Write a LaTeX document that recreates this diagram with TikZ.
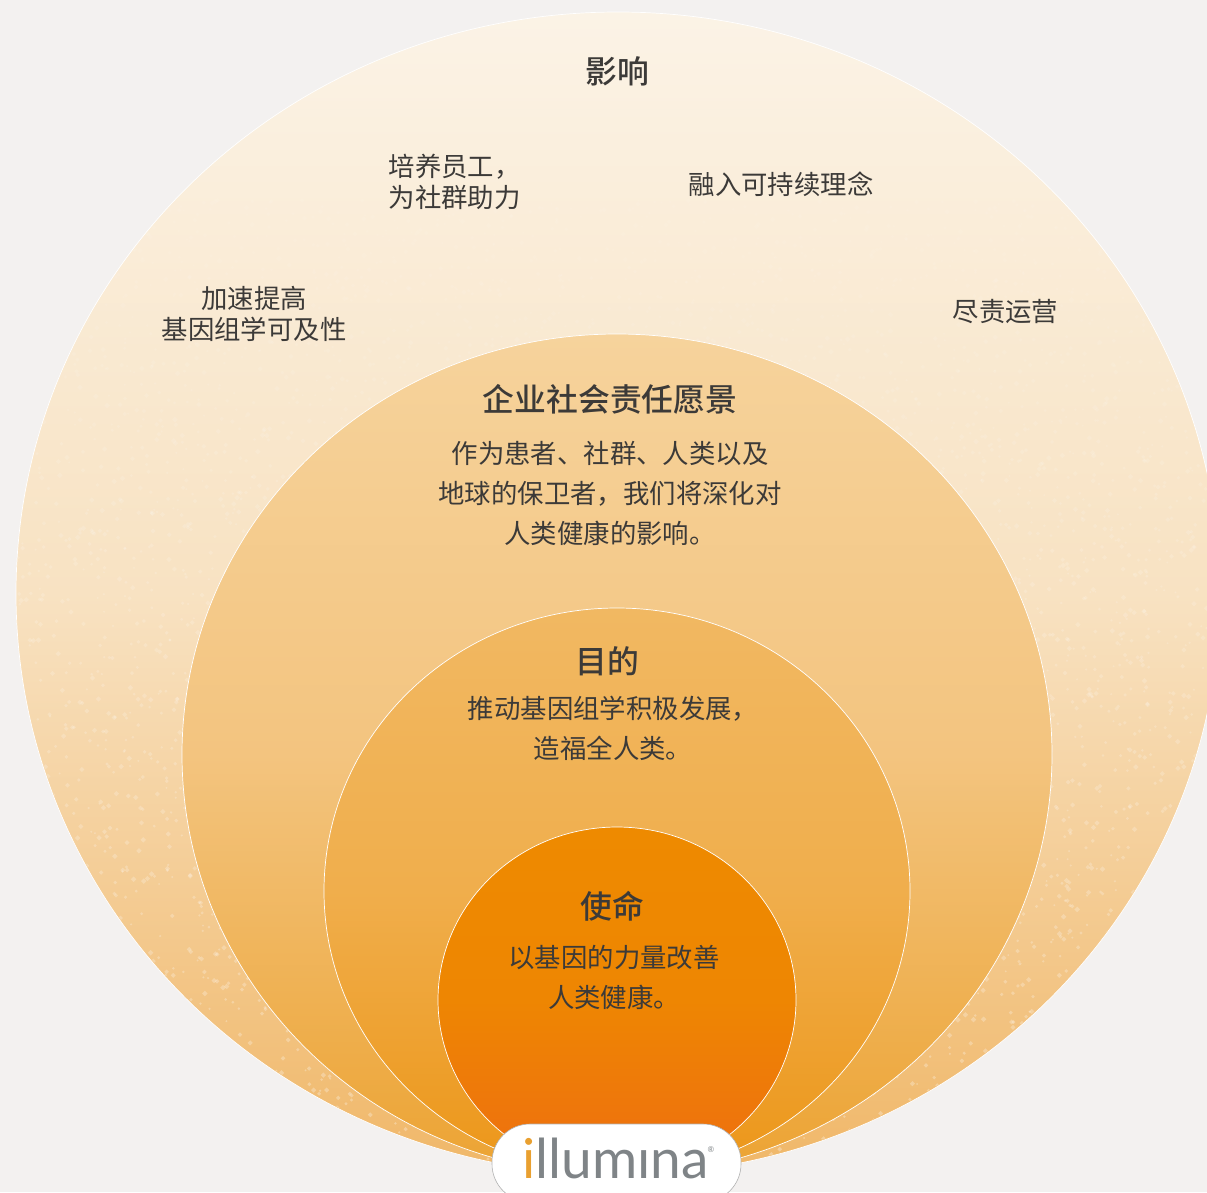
\documentclass[tikz,border=0pt]{standalone}
\usepackage{fontspec}
\setmainfont{Noto Sans CJK SC}[BoldFont={Noto Sans CJK SC Medium}]
\newfontfamily\logofont{Lato}
\definecolor{pagebg}{HTML}{F3F1F0}
\definecolor{inkc}{HTML}{3C3A38}
\definecolor{logog}{HTML}{7F8487}
\definecolor{logoo}{HTML}{E9A030}
\definecolor{oa}{HTML}{FBF3E6}
\definecolor{ob}{HTML}{F8E2C2}
\definecolor{oc}{HTML}{F0B768}
\definecolor{ma}{HTML}{F6D39C}
\definecolor{mm}{HTML}{F3C47F}
\definecolor{mb}{HTML}{ECA332}
\definecolor{pa}{HTML}{F1B862}
\definecolor{pm}{HTML}{F0AE4C}
\definecolor{pb}{HTML}{EC9618}
\definecolor{ia}{HTML}{EE8A00}
\definecolor{im}{HTML}{EE8602}
\definecolor{ib}{HTML}{EE6E10}
\tikzset{
  ring/.style={draw=white,line width=0.7pt},
  body/.style={text=inkc,inner sep=0pt,font=\fontsize{26.4}{40}\selectfont,align=center},
  outertxt/.style={text=inkc,inner sep=0pt,font=\fontsize{26.4}{31}\selectfont},
  headtxt/.style={text=inkc,inner sep=0pt,font=\fontsize{31.8}{38}\selectfont\bfseries},
}
\begin{document}
\begin{tikzpicture}[x=1pt,y=-1pt]
\useasboundingbox (0,0) rectangle (1207,1192);
\fill[pagebg] (0,0) rectangle (1207,1192);
% outer ring
\path[ring,top color=oa,bottom color=oc,middle color=ob] (618,593.5) ellipse [x radius=602,y radius=581.5];
\begin{scope}
\clip (618,593.5) ellipse [x radius=601,y radius=580.5];
\pgfmathsetseed{4711}
\foreach \k in {1,...,6000}{
  \pgfmathsetmacro{\px}{rnd*1207}
  \pgfmathsetmacro{\py}{200+rnd*980}
  \pgfmathsetmacro{\op}{0.06+0.24*(\py-200)/980}
  \pgfmathsetmacro{\rs}{1.0+rnd*1.8}
  \fill[white,opacity=\op] (\px-\rs,\py) -- (\px,\py-\rs) -- (\px+\rs,\py) -- (\px,\py+\rs) -- cycle;
}
\end{scope}
% inner discs
\path[ring,top color=ma,bottom color=mb,middle color=mm] (617,754.5) ellipse [x radius=435,y radius=420.5];
\path[ring,top color=pa,bottom color=pb,middle color=pm] (617,891) ellipse [x radius=293,y radius=283];
\path[ring,top color=ia,bottom color=ib,middle color=im] (617,1000) ellipse [x radius=179,y radius=173];
% logo
\path[draw=gray!60,line width=0.6pt,fill=white,rounded corners=38pt] (492,1124) rectangle (741,1202);
\node[inner sep=0pt,anchor=base west] (logo) at (522,1178) {\logofont\fontsize{55}{55}\selectfont\textcolor{logoo}{i}\textcolor{logog}{llumına}};
\node[inner sep=0pt,text=logog] (logor) at (711,1150) {\logofont\fontsize{8}{8}\selectfont ®};
% text
\node[headtxt] (h1) at (617.5,71) {影响};
\node[outertxt,align=left,anchor=north west] (t1) at (388.5,154) {培养员工，\\为社群助力};
\node[outertxt] (t2) at (781,184) {融入可持续理念};
\node[outertxt,align=center] (t3) at (254,314) {加速提高\\基因组学可及性};
\node[outertxt] (t4) at (1005.5,312) {尽责运营};
\node[headtxt] (h2) at (610,399.5) {企业社会责任愿景};
\node[body] (b2) at (610,493.5) {作为患者、社群、人类以及\\地球的保卫者，我们将深化对\\人类健康的影响。};
\node[headtxt] (h3) at (607.5,661) {目的};
\node[body] (b3) at (613,728) {推动基因组学积极发展，\\造福全人类。};
\node[headtxt] (h4) at (612,906) {使命};
\node[body] (b4) at (614,977.5) {以基因的力量改善\\人类健康。};
\end{tikzpicture}
\end{document}
